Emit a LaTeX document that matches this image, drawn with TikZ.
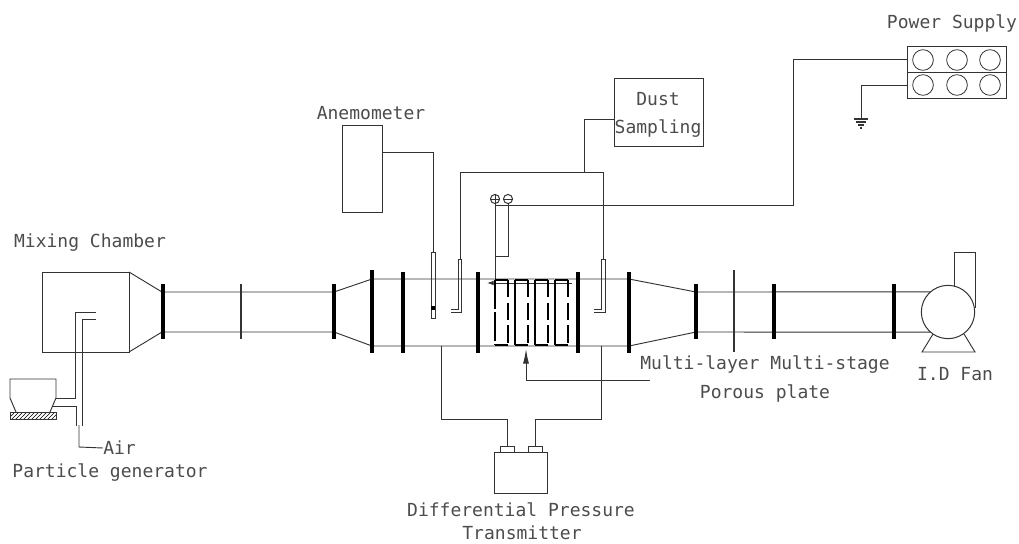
\documentclass[tikz,border=0pt]{standalone}
\usepackage{fontspec}
\setmainfont{DejaVu Sans Mono}
\usetikzlibrary{patterns,arrows.meta}
\tikzset{
  wire/.style={line width=0.7pt, black!80},
  flange/.style={line width=2.4pt},
  platebar/.style={line width=1.2pt},
  boxnode/.style={draw=black!80, line width=0.75pt, inner sep=0pt, outer sep=0pt},
  socket/.style={draw=black!80, line width=0.6pt, circle, inner sep=0pt, outer sep=0pt, minimum size=15.5pt},
  lbl/.style={inner sep=0pt, font=\fontsize{13.5pt}{16pt}\selectfont, text=black!70},
}
\begin{document}
\begin{tikzpicture}[x=0.75pt,y=-0.75pt]
\useasboundingbox (0,0) rectangle (1019,543);
% boxes
\node[boxnode, minimum width=65.25pt, minimum height=60pt] (chamber) at (85.5,312) {};
\node[boxnode, minimum width=30pt, minimum height=65.25pt] (anem) at (362,168.5) {};
\node[boxnode, minimum width=66.75pt, minimum height=51pt] (dust) at (658.5,112) {};
\node[boxnode, minimum width=39.75pt, minimum height=30.75pt] (dpt) at (520.5,472.5) {};
\node[boxnode, minimum width=10.5pt, minimum height=4.5pt] (porta) at (507,449) {};
\node[boxnode, minimum width=10.5pt, minimum height=4.5pt] (portb) at (535,449) {};
\node[boxnode, minimum width=74.25pt, minimum height=19.5pt] (psupa) at (956.5,59) {};
\node[boxnode, minimum width=74.25pt, minimum height=19.5pt] (psupb) at (956.5,85) {};
\foreach \cx in {923,957,990} {
  \node[socket] (sa\cx) at (\cx,60) {};
  \node[socket] (sb\cx) at (\cx,85) {};
}
\node[boxnode, circle, minimum size=40pt] (fan) at (948,312) {};
\node[boxnode, circle, minimum size=6.8pt] (plus) at (495,199) {};
\node[boxnode, circle, minimum size=6.8pt] (minus) at (508,199) {};
\draw[wire] (plus.north) -- (plus.south) (plus.west) -- (plus.east) (minus.west) -- (minus.east);
% labels
\node[lbl] (mixlabel) at (90,243) {Mixing Chamber};
\node[lbl] (anemlabel) at (371,113) {Anemometer};
\node[lbl, align=center] (dustlabel) at (658,115) {Dust\\[5pt]Sampling};
\node[lbl] (pwrlabel) at (952,23) {Power Supply};
\node[lbl] (fanlabel) at (955,374) {I.D Fan};
\node[lbl] (platelabel) at (765,365) {Multi-layer Multi-stage};
\node[lbl] (porouslabel) at (765,393) {Porous plate};
\node[lbl] (dptlabel) at (521,510) {Differential Pressure};
\node[lbl] (txlabel) at (522,533) {Transmitter};
\node[lbl] (genlabel) at (110,473) {Particle generator};
\node[lbl, anchor=west] (airlabel) at (103,448) {Air};
% duct
\draw[wire] (chamber.north east) -- (162,292) -- (334,292) -- (372,279) -- (629,279) -- (696,292) -- (fan.131);
\draw[wire] (chamber.south east) -- (162,332) -- (334,332) -- (372,346) -- (629,346) -- (696,332) -- (fan.229);
\foreach \fx/\ya/\yb in {163/284/339,334/284/339,372/270/353,403/272/353,478/272/353,578/272/353,629/272/353,696/284/339,774/284/339,894/284/339}
  \draw[flange] (\fx,\ya) -- (\fx,\yb);
\draw[wire, line width=1pt] (241,284) -- (241,339);
\draw[wire, line width=1pt] (734,270) -- (734,352);
% fan
\draw[wire] (954,287) -- (954,252) -- (975,252) -- (975,308);
\draw[wire] (933,334) -- (922,352) -- (975,352) -- (964,334);
% particle generator
\draw[wire] (96,312) -- (75.5,312) -- (75.5,398) -- (56,398);
\draw[wire] (96,319) -- (82,319) -- (82,426);
\draw[wire] (53,406) -- (76,406) -- (76,426);
\draw[wire] (79,425) -- (79,447) -- (airlabel.west);
\draw[wire] (16,412) -- (10,398) -- (10,379) -- (56,379) -- (56,398) -- (50,412);
\node[boxnode, pattern=north east lines, minimum width=34.5pt, minimum height=5.25pt] (hotplate) at (33,415.5) {};
% anemometer
\coordinate (anemout) at (anem.east |- 0,152);
\node[boxnode, minimum width=3pt, minimum height=49.5pt] (anemprobe) at (433,285) {};
\node[fill=black, inner sep=0pt, minimum size=2.6pt] (anemtip) at (433,308) {};
\draw[wire] (anemout) -- (433,152) -- (anemprobe.north);
% dust sampling
\coordinate (dustout) at (dust.west |- 0,119);
\draw[wire] (dustout) -- (584,119) -- (584,172);
\draw[wire] (460,259) -- (460,172) -- (603,172) -- (603,259);
\draw[wire] (451,312) -- (461,312) -- (461,259) -- (458,259) -- (458,309) -- (451,309);
\draw[wire] (594,312) -- (605,312) -- (605,259) -- (601,259) -- (601,309) -- (594,309);
% high voltage
\coordinate (pwrout) at (psupa.west);
\coordinate (gndout) at (psupb.west);
\coordinate (gnd) at (861,118);
\draw[wire] (pwrout) -- (793,59) -- (793,205) -- (495,205) -- (plus.south);
\draw[wire] (minus.south) -- (508,256) -- (495,256);
\draw[wire] (495,205) -- (495,280);
\draw[wire] (gndout) -- (861,85) -- (gnd);
\draw[wire, line width=0.9pt] (854,119) -- (868,119);
\draw[wire, line width=0.9pt] (856,122) -- (866,122);
\draw[wire, line width=0.9pt] (858,125) -- (864,125);
\draw[wire, line width=0.9pt] (860,128) -- (862,128);
% plates
\draw[wire, -{Latex[length=5pt,width=3.5pt]}] (572,283) -- (487,283);
\foreach \pa/\pb in {495/508,515/528,535/548,555/568} {
  \draw[platebar] (\pa,345) -- (\pb,345);
  \draw[platebar] (\pa,280) -- (\pb,280);
  \draw[platebar, dash pattern=on 13pt off 4pt] (\pb,280) -- (\pb,345);
}
\draw[platebar, dash pattern=on 22pt off 2pt] (495,280) -- (495,345);
\foreach \pa in {515,535,555} \draw[platebar] (\pa,280) -- (\pa,345);
% arrow to plates
\draw[wire, -{Latex[length=11pt,width=4.5pt]}] (650,380) -- (526,380) -- (526,349);
% pressure lines
\draw[wire] (441,346) -- (441,419) -- (507,419) -- (porta.north);
\draw[wire] (601,346) -- (601,419) -- (535,419) -- (portb.north);
\end{tikzpicture}
\end{document}
